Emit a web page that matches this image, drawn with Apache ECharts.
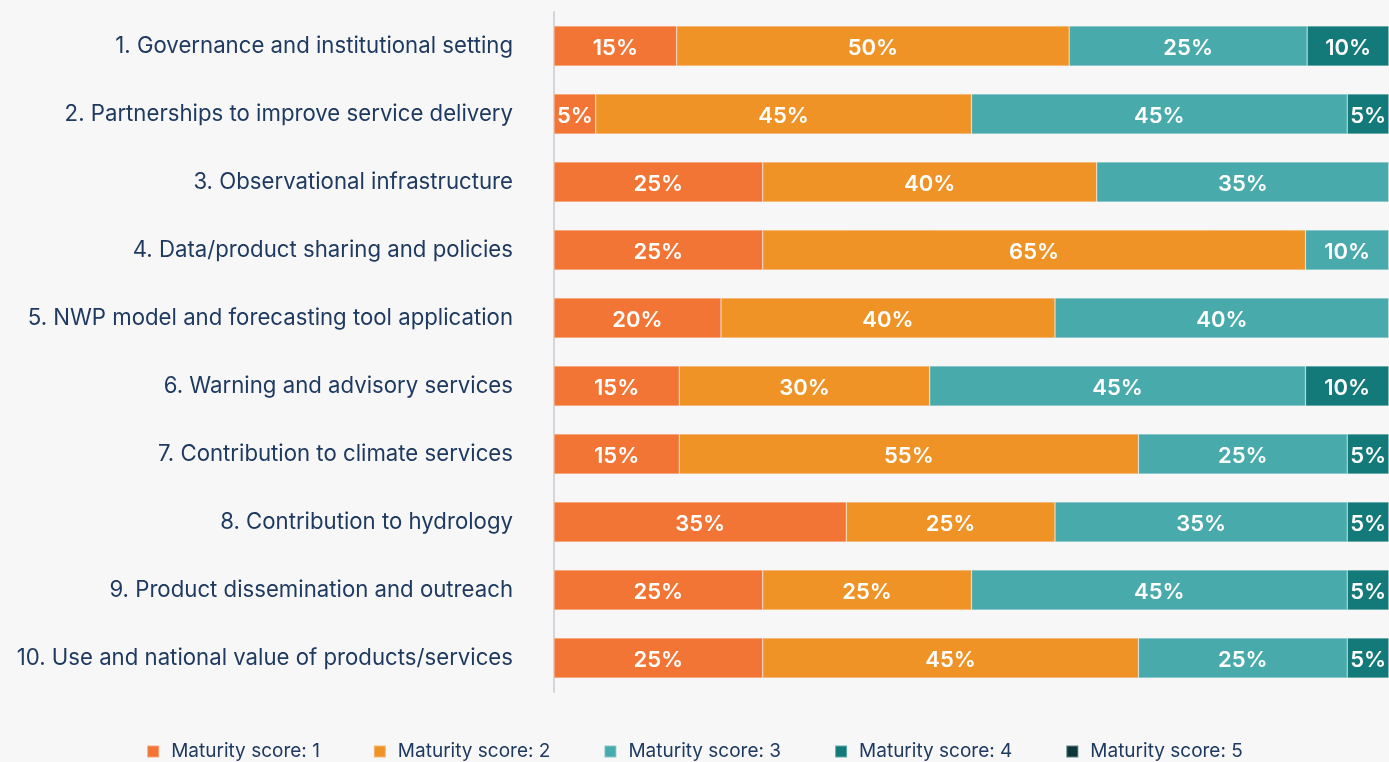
<!DOCTYPE html>
<html>
<head>
<meta charset="utf-8">
<title>Maturity scores</title>
<script src="https://cdn.jsdelivr.net/npm/echarts@6/dist/echarts.min.js"></script>
<style>
  html, body { margin: 0; padding: 0; background: #f7f7f7; }
  #main { width: 1389px; height: 762px; }
</style>
</head>
<body>
<div id="main"></div>
<script>
// categories, top to bottom
var categories = [
  '1. Governance and institutional setting',
  '2. Partnerships to improve service delivery',
  '3. Observational infrastructure',
  '4. Data/product sharing and policies',
  '5. NWP model and forecasting tool application',
  '6. Warning and advisory services',
  '7. Contribution to climate services',
  '8. Contribution to hydrology',
  '9. Product dissemination and outreach',
  '10. Use and national value of products/services'
];
var seriesNames = ['Maturity score: 1', 'Maturity score: 2', 'Maturity score: 3', 'Maturity score: 4', 'Maturity score: 5'];

// bar lengths (share of members, %) as drawn
var score1 = [14.7, 5, 25, 25, 20, 15, 15, 35, 25, 25];
var score2 = [47, 45, 40, 65, 40, 30, 55, 25, 25, 45];
var score3 = [28.5, 45, 35, 10, 40, 45, 25, 35, 45, 25];
var score4 = [9.8, 5, 0, 0, 0, 10, 5, 5, 5, 5];
var score5 = [0, 0, 0, 0, 0, 0, 0, 0, 0, 0];

// printed percentage labels
var label1 = ['15%', '5%', '25%', '25%', '20%', '15%', '15%', '35%', '25%', '25%'];
var label2 = ['50%', '45%', '40%', '65%', '40%', '30%', '55%', '25%', '25%', '45%'];
var label3 = ['25%', '45%', '35%', '10%', '40%', '45%', '25%', '35%', '45%', '25%'];
var label4 = ['10%', '5%', '', '', '', '10%', '5%', '5%', '5%', '5%'];
var label5 = ['', '', '', '', '', '', '', '', '', ''];

var colors = ['#f37535', '#f09327', '#49aaab', '#137a79', '#0b363a'];

var myChart = echarts.init(document.getElementById('main'));

var values = [score1, score2, score3, score4, score5];
var labels = [label1, label2, label3, label4, label5];

var series = [];
for (var i = 0; i < values.length; i++) {
  (function (idx) {
    series.push({
      name: seriesNames[idx],
      type: 'bar',
      stack: 'total',
      barWidth: 40,
      data: values[idx],
      itemStyle: { borderColor: 'rgba(255,255,255,0.35)', borderWidth: 0.6 },
      label: {
        show: true,
        position: 'inside',
        offset: [0, 2],
        color: '#ffffff',
        fontFamily: 'Inter',
        fontWeight: 600,
        fontSize: 22,
        formatter: function (p) {
          return labels[idx][p.dataIndex];
        }
      }
    });
  })(i);
}

var option = {
  backgroundColor: '#f7f7f7',
  color: colors,
  animation: false,
  textStyle: { fontFamily: 'Inter' },
  grid: {
    left: 554,
    top: 12,
    width: 837,
    bottom: 70
  },
  legend: {
    top: 737,
    left: 'center',
    icon: 'rect',
    itemWidth: 12,
    itemHeight: 12,
    itemGap: 53,
    textStyle: {
      color: '#1f3a60',
      fontSize: 19,
      padding: [0, 0, 0, 7],
      fontFamily: 'Inter'
    },
    data: seriesNames
  },
  xAxis: {
    type: 'value',
    min: 0,
    max: 100,
    show: false
  },
  yAxis: {
    type: 'category',
    inverse: true,
    data: categories,
    axisLine: { show: true, lineStyle: { color: '#d3d6dc', width: 2 } },
    axisTick: { show: false },
    axisLabel: {
      color: '#1f3a60',
      fontSize: 22.2,
      margin: 41,
      fontFamily: 'Inter'
    }
  },
  series: series
};

myChart.setOption(option);
window.addEventListener('resize', myChart.resize);
</script>
</body>
</html>
